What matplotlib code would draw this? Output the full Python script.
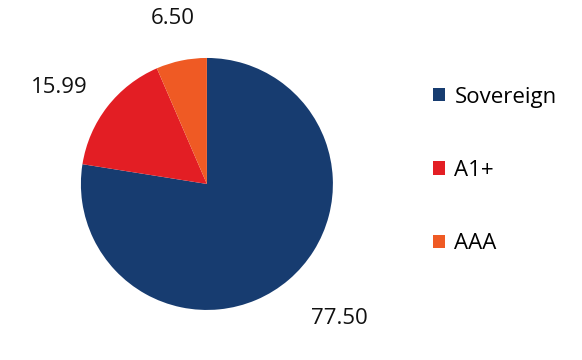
import numpy as np
import matplotlib.pyplot as plt

categories = ['Sovereign', 'A1+', 'AAA']
values = [77.50, 15.99, 6.50]
colors = ['#173c70', '#e31e24', '#ef5a24']

# label placement (radius in pie units, angle nudge in degrees)
label_r = [1.50, 1.40, 1.34]
label_nudge = [4.0, 4.8, 0.0]

plt.rcParams['font.family'] = ['Open Sans', 'DejaVu Sans']

fig = plt.figure(figsize=(5.82, 3.6), dpi=100)
ax = fig.add_axes([0.139, 0.139, 0.433, 0.70])

wedges, _ = ax.pie(values, colors=colors, startangle=90, counterclock=False,
                   radius=1, wedgeprops=dict(linewidth=0))
for w, v, r, d in zip(wedges, values, label_r, label_nudge):
    ang = np.deg2rad((w.theta1 + w.theta2) / 2 + d)
    ax.text(r * np.cos(ang), r * np.sin(ang), '{:.2f}'.format(v),
            ha='center', va='center', fontsize=16, color='#111111')
ax.set_xlim(-1, 1)
ax.set_ylim(-1, 1)
ax.set_aspect('equal')

fig.legend(wedges, categories, loc='upper left', bbox_to_anchor=(0.71, 0.815),
           frameon=False, fontsize=16, handlelength=0.55, handleheight=0.55,
           handletextpad=0.4, labelspacing=2.36)

fig.savefig('out.png', dpi=100)
